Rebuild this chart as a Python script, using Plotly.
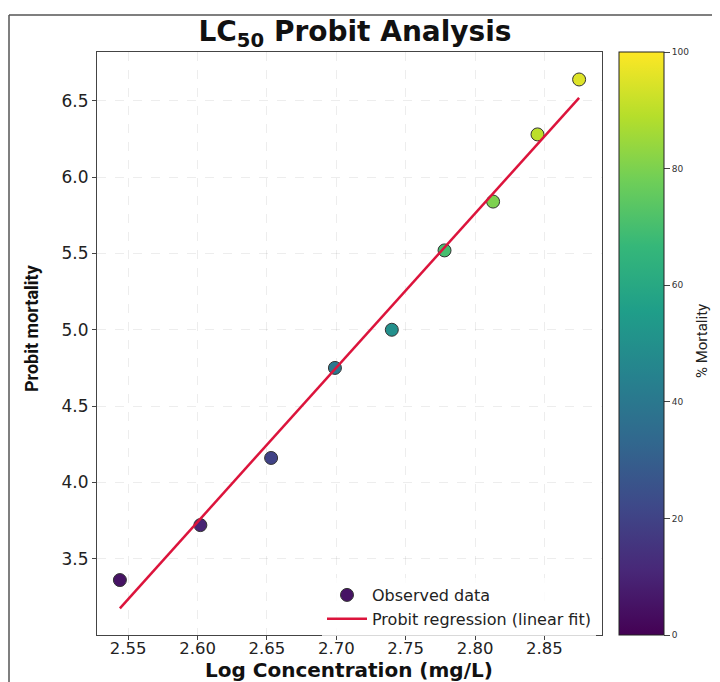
import plotly.graph_objects as go

# Data
log_conc = [2.544, 2.602, 2.653, 2.699, 2.740, 2.778, 2.813, 2.845, 2.875]
probit = [3.36, 3.72, 4.16, 4.75, 5.00, 5.52, 5.84, 6.28, 6.64]
mortality = [5, 10, 20, 40, 50, 70, 80, 90, 95]
fit_x = [2.544, 2.875]
fit_y = [3.175, 6.52]
x_ticks = [2.55, 2.60, 2.65, 2.70, 2.75, 2.80, 2.85]
y_ticks = [3.5, 4.0, 4.5, 5.0, 5.5, 6.0, 6.5]
cb_ticks = [0, 20, 40, 60, 80, 100]

# page body has an 8px margin, so figure coords = reference coords - 8
OFF = 8
W, H = 720 - OFF, 682 - OFF
L = 97 - OFF
T = 52 - OFF
R = W - (602 - OFF)
B = H - (635 - OFF)
pw = W - L - R
ph = H - T - B

def px_x(x):  # reference pixel -> paper x
    return (x - OFF - L) / pw

def px_y(y):  # reference pixel -> paper y
    return 1 - (y - OFF - T) / ph

NARROW = "Roboto, DejaVu Sans Condensed, sans-serif"

fig = go.Figure()
fig.add_trace(go.Scatter(
    x=log_conc, y=probit, mode="markers", name="Observed data",
    marker=dict(size=13, color=mortality, colorscale="Viridis", cmin=0, cmax=100,
                line=dict(color="#333333", width=1),
                colorbar=dict(
                    x=px_x(619), xanchor="left", xref="paper",
                    y=0.5, yanchor="middle", len=1.0, lenmode="fraction",
                    thickness=45, thicknessmode="pixels",
                    outlinecolor="#222222", outlinewidth=1,
                    tickvals=cb_ticks, ticks="outside", ticklen=6, tickcolor="#444",
                    tickfont=dict(family="DejaVu Sans", size=9, color="#333"),
                    xpad=0, ypad=0,
                )),
))
fig.add_trace(go.Scatter(
    x=fit_x, y=fit_y, mode="lines", name="Probit regression (linear fit)",
    line=dict(color="#DC143C", width=2.5),
))

axis_common = dict(
    showline=True, linecolor="#444444", linewidth=1.2, mirror=True,
    ticks="outside", ticklen=4, tickcolor="#444444",
    showgrid=True, gridcolor="rgba(0,0,0,0.07)", griddash="dash", gridwidth=1,
    zeroline=False,
)

fig.update_layout(
    width=W, height=H,
    margin=dict(l=L, r=R, t=T, b=B, autoexpand=False),
    paper_bgcolor="white", plot_bgcolor="white",
    title=dict(text="<b>LC<sub>50</sub> Probit Analysis</b>", x=px_x(355), xref="paper",
               xanchor="center", y=1 - (31 - OFF) / H, yanchor="middle",
               font=dict(family="DejaVu Sans", size=28, color="#111")),
    xaxis=dict(range=[2.5275, 2.8915], tickvals=x_ticks, ticktext=[f"{v:.2f}" for v in x_ticks],
               ticklabelstandoff=-6,
               tickfont=dict(family="DejaVu Sans", size=16.5, color="#222"),
               **axis_common),
    yaxis=dict(range=[3.0, 6.82], tickvals=y_ticks, ticktext=[f"{v:.1f}" for v in y_ticks],
               tickfont=dict(family="DejaVu Sans", size=17, color="#222"),
               **axis_common),
    legend=dict(x=px_x(596), y=px_y(636), xanchor="right", yanchor="bottom",
                bgcolor="rgba(255,255,255,0.8)", borderwidth=0,
                font=dict(family="DejaVu Sans", size=16, color="#222"),
                tracegroupgap=0, itemwidth=40),
    showlegend=True,
    annotations=[
        dict(text="<b>Log Concentration (mg/L)</b>", xref="paper", yref="paper",
             x=px_x(349), y=px_y(670), xanchor="center", yanchor="middle",
             showarrow=False, font=dict(family="DejaVu Sans", size=20, color="#111")),
        dict(text="<b>Probit mortality</b>", textangle=-90, xref="paper", yref="paper",
             x=px_x(31), y=px_y(328), xanchor="center", yanchor="middle",
             showarrow=False, font=dict(family=NARROW, size=18, color="#111")),
        dict(text="% Mortality", textangle=-90, xref="paper", yref="paper",
             x=px_x(702), y=px_y(341), xanchor="center", yanchor="middle",
             showarrow=False, font=dict(family=NARROW, size=15, color="#222")),
    ],
    shapes=[
        dict(type="line", xref="paper", yref="paper",
             x0=px_x(9), x1=px_x(725), y0=px_y(15), y1=px_y(15),
             line=dict(color="#555", width=1.5)),
        dict(type="line", xref="paper", yref="paper",
             x0=px_x(9), x1=px_x(9), y0=px_y(690), y1=px_y(15),
             line=dict(color="#555", width=1.5)),
    ],
)

fig.write_html("out.html")
